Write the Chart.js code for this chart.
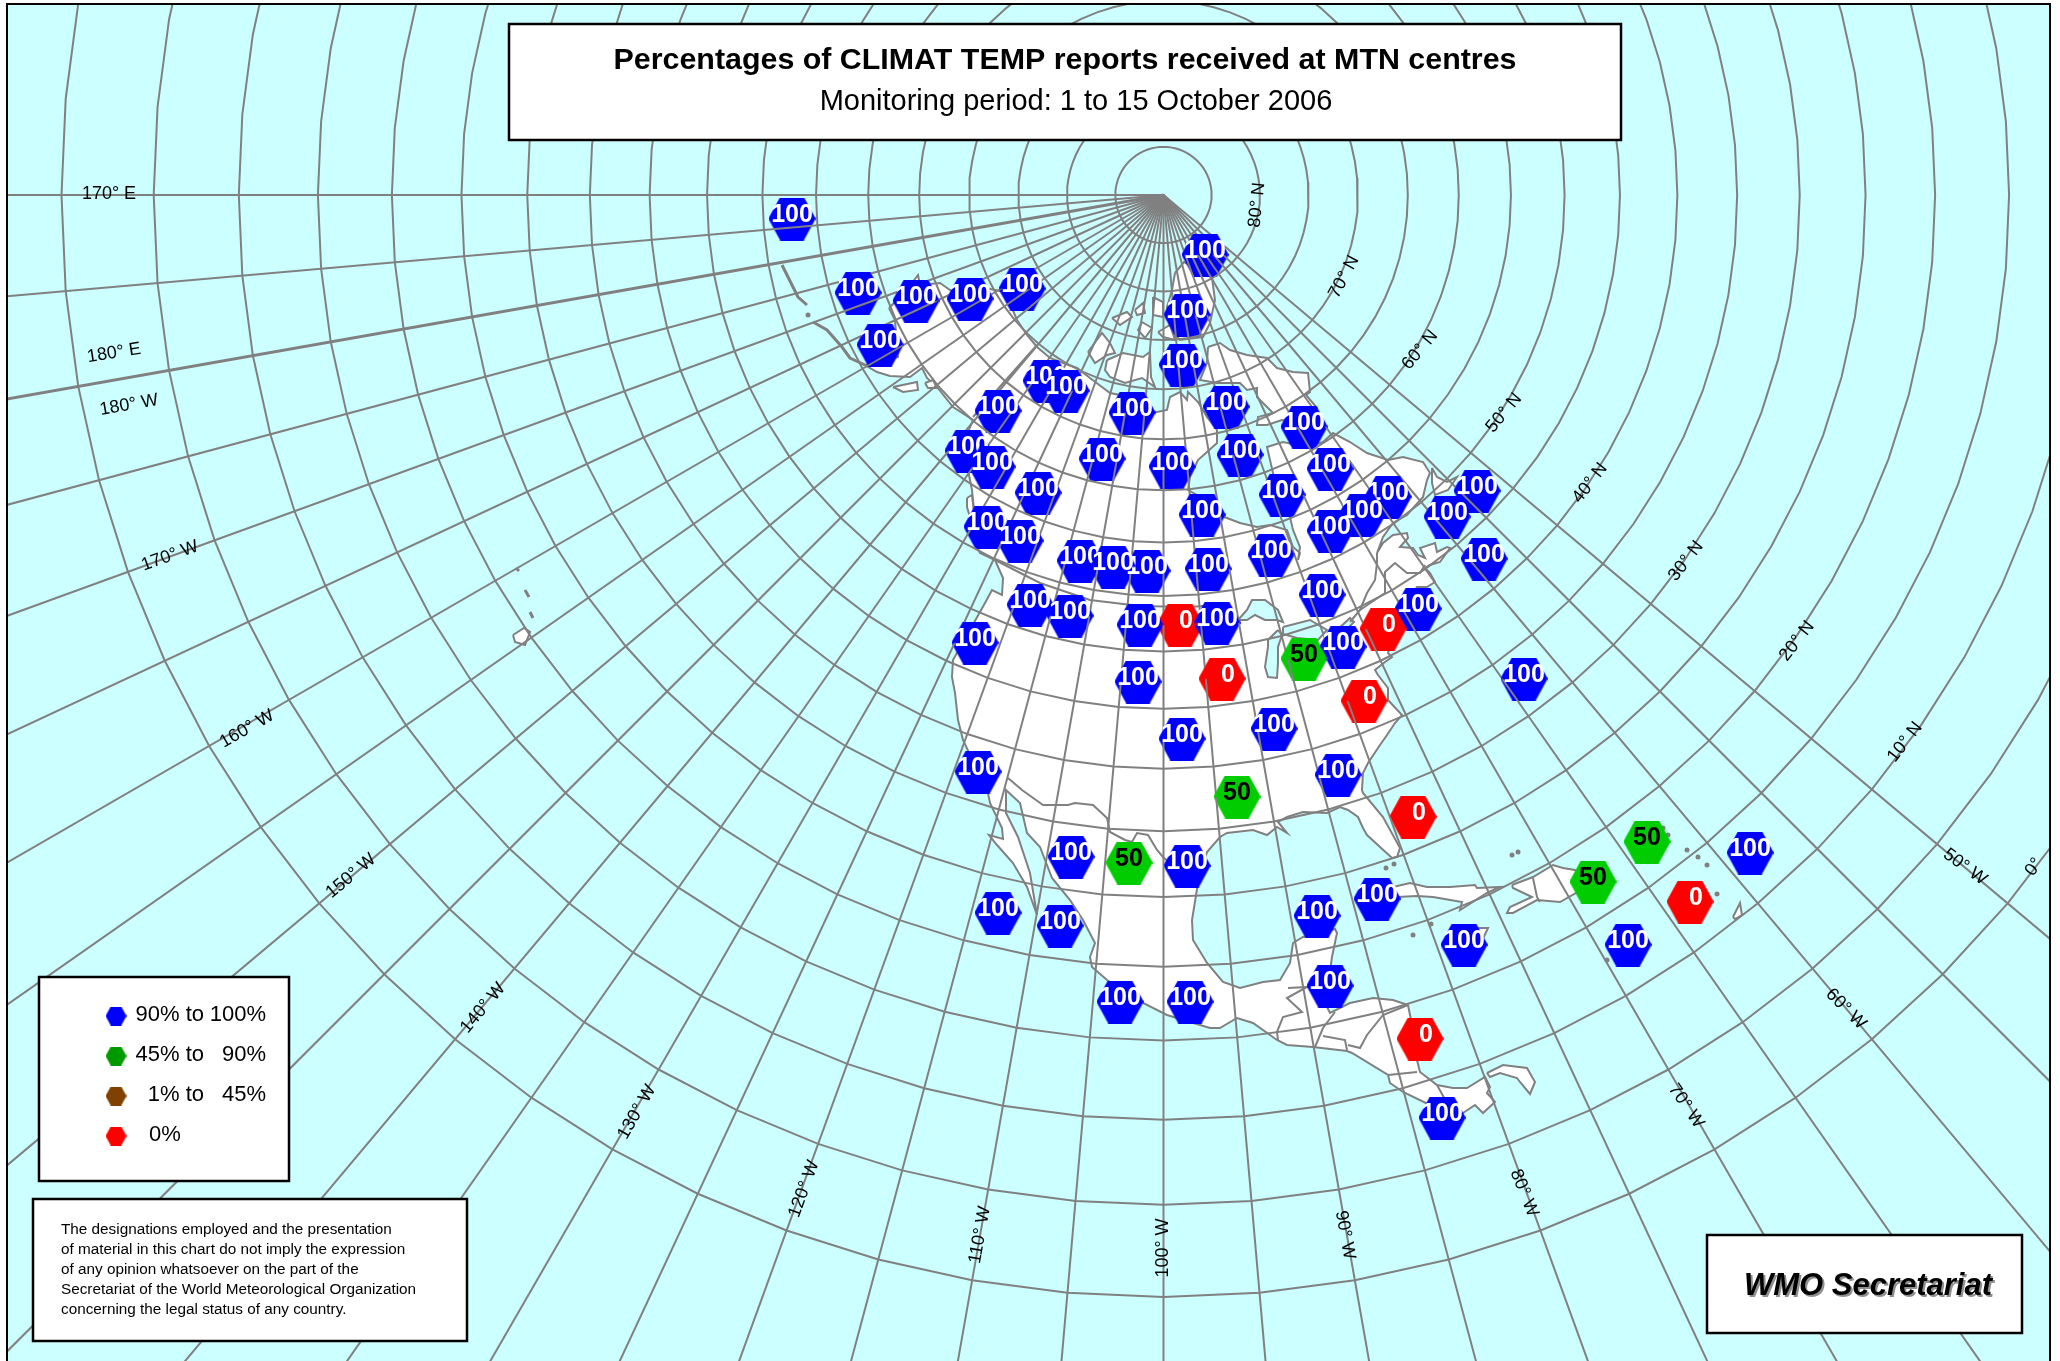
<!DOCTYPE html>
<html>
<head>
<meta charset="utf-8">
<title>CLIMAT TEMP reports</title>
<script src="https://cdn.jsdelivr.net/npm/chart.js@4"></script>
<style>
  html, body { margin: 0; background: #fff; }
  canvas { display: block; }
</style>
</head>
<body>
<canvas id="mapChart" width="2060" height="1361"></canvas>
<script>
// Stations in map grid units, listed in drawing order
const stationX = [792, 858, 916, 970, 1022, 880, 1205, 1187, 1182, 1046, 1066, 998, 1132, 1226, 1304, 968, 992, 1102, 1172, 1240, 1330, 1282, 1038, 1388, 1362, 1330, 1477, 1447, 1484, 1202, 1322, 987, 1020, 1080, 1147, 1113, 1208, 1271, 1180, 1140, 1217, 1030, 1070, 1418, 1304, 1343, 1383, 1138, 1222, 1182, 1274, 975, 1364, 1338, 1524, 978, 1237, 1071, 1129, 1187, 1413, 998, 1060, 1377, 1317, 1330, 1120, 1190, 1420, 1442, 1593, 1647, 1750, 1690, 1628, 1464];
const stationY = [219, 293, 301, 299, 289, 345, 255, 315, 365, 381, 391, 411, 413, 407, 427, 451, 467, 459, 467, 455, 469, 495, 493, 497, 515, 531, 491, 517, 559, 515, 595, 527, 541, 561, 571, 567, 569, 555, 625, 625, 623, 605, 616, 609, 659, 647, 629, 682, 679, 739, 729, 643, 701, 775, 679, 772, 797, 857, 863, 866, 817, 913, 926, 899, 916, 986, 1002, 1002, 1039, 1118, 882, 842, 853, 902, 945, 945];
const stationPct = [100, 100, 100, 100, 100, 100, 100, 100, 100, 100, 100, 100, 100, 100, 100, 100, 100, 100, 100, 100, 100, 100, 100, 100, 100, 100, 100, 100, 100, 100, 100, 100, 100, 100, 100, 100, 100, 100, 0, 100, 100, 100, 100, 100, 50, 100, 0, 100, 0, 100, 100, 100, 0, 100, 100, 100, 50, 100, 50, 100, 0, 100, 100, 100, 100, 100, 100, 100, 0, 100, 50, 50, 100, 0, 100, 100];

// Graticule of the polar stereographic map
const parallelLats = [85, 80, 75, 70, 65, 60, 55, 50, 45, 40, 35, 30, 25, 20, 15, 10, 5, 0];
const meridianLons = [-50, -55, -60, -65, -70, -75, -80, -85, -90, -95, -100, -105, -110, -115, -120, -125, -130, -135, -140, -145, -150, -155, -160, -165, -170, -175, -180, -185, -190];
const chordLons = [-100, -105, -110, -115, -120, -125, -130, -135, -140, -145, -150, -155, -160, -165, -170, -175, -180, -185, -190, -195, -200, -205, -210, -215, -220, -225, -230, -235, -240, -245, -250, -255, -260, -265, -270, -275, -280, -285, -290, -295, -300, -305, -310, -315, -320, -325, -330, -335, -340, -345, -350, -355, 0, -5, -10, -15, -20, -25, -30, -35, -40, -45, -50, -55, -60, -65, -70, -75, -80, -85, -90, -95, -100];
const poleX = 1163.5, poleY = 195, mapRadius = 1102;

// Graticule labels: text, map grid position, rotation
const gridLabelText = ['170° E', '180° E', '180° W', '170° W', '160° W', '150° W', '140° W', '130° W', '120° W', '110° W', '100° W', '90° W', '80° W', '70° W', '60° W', '50° W', '80° N', '70° N', '60° N', '50° N', '40° N', '30° N', '20° N', '10° N', '0°'];
const gridLabelX = [109, 114, 129, 170, 247, 351, 483, 637, 804, 980, 1163, 1345, 1524, 1686, 1846, 1965, 1257, 1344, 1420, 1504, 1590, 1686, 1797, 1905, 2034];
const gridLabelY = [194, 353, 405, 556, 729, 876, 1008, 1112, 1189, 1235, 1248, 1235, 1193, 1106, 1009, 867, 205, 277, 350, 413, 483, 561, 641, 742, 867];
const gridLabelAngle = [0, -9, -10, -20, -30, -40, -50, -60, -70, -80, -90, 80, 68, 56, 45, 36, -84, -62, -50, -50, -52, -52, -52, -52, -54];

// Coastlines as [x, y] outlines
const mainland = [[889,308],[905,292],[918,275],[920,285],[940,283],[950,290],[985,288],[1005,292],[1017,320],[1027,335],[1037,347],[1050,358],[1063,363],[1077,368],[1090,378],[1110,393],[1120,395],[1140,410],[1157,412],[1167,410],[1170,397],[1180,392],[1187,400],[1188,392],[1198,402],[1207,417],[1217,430],[1217,443],[1207,452],[1198,460],[1190,477],[1188,490],[1197,495],[1210,513],[1227,518],[1240,523],[1257,527],[1270,525],[1287,530],[1293,547],[1300,553],[1298,560],[1300,547],[1293,530],[1290,517],[1273,473],[1267,447],[1283,442],[1307,447],[1323,442],[1333,433],[1350,442],[1367,453],[1388,460],[1403,457],[1423,462],[1430,473],[1427,480],[1423,497],[1407,515],[1393,523],[1383,537],[1377,553],[1383,543],[1393,535],[1407,533],[1408,538],[1400,547],[1413,548],[1418,555],[1425,558],[1420,548],[1435,543],[1437,552],[1447,547],[1450,548],[1440,562],[1430,565],[1425,568],[1430,573],[1435,582],[1427,587],[1417,587],[1400,612],[1388,653],[1392,657],[1385,662],[1375,670],[1378,675],[1388,688],[1388,700],[1402,715],[1395,723],[1387,735],[1380,745],[1368,763],[1363,773],[1362,790],[1363,793],[1383,817],[1400,848],[1397,857],[1392,858],[1380,847],[1367,835],[1363,828],[1358,817],[1348,810],[1340,807],[1327,813],[1303,812],[1287,817],[1278,822],[1287,833],[1277,827],[1267,835],[1253,830],[1227,833],[1220,837],[1207,852],[1198,883],[1192,920],[1193,940],[1207,963],[1223,982],[1240,988],[1263,982],[1280,980],[1290,963],[1293,943],[1303,937],[1335,929],[1337,933],[1332,957],[1328,985],[1327,1007],[1330,1013],[1350,1003],[1373,998],[1393,1000],[1408,1005],[1415,1040],[1417,1060],[1420,1072],[1437,1085],[1453,1088],[1467,1088],[1485,1077],[1490,1087],[1487,1093],[1495,1102],[1483,1113],[1475,1105],[1460,1115],[1430,1105],[1403,1092],[1390,1083],[1388,1075],[1352,1053],[1347,1051],[1313,1047],[1287,1045],[1277,1040],[1253,1023],[1237,1018],[1220,1028],[1210,1028],[1190,1022],[1167,1015],[1143,1003],[1107,980],[1092,967],[1090,957],[1095,943],[1083,920],[1070,900],[1052,878],[1040,847],[1027,833],[1020,803],[1006,790],[1006,813],[1018,837],[1030,873],[1037,915],[1027,887],[1013,863],[997,845],[989,835],[1003,839],[1002,828],[990,803],[988,793],[963,740],[958,720],[955,693],[952,677],[953,660],[985,603],[992,590],[1002,595],[1003,578],[995,560],[980,553],[977,547],[975,520],[972,490],[968,470],[965,440],[973,420],[953,407],[937,387],[927,378],[922,368],[910,377],[890,376],[877,372],[865,365],[885,360],[898,357],[895,320],[889,308]];
const baffin = [[1208,347],[1220,343],[1230,350],[1247,355],[1267,358],[1277,368],[1293,372],[1308,373],[1310,392],[1306,395],[1317,408],[1300,423],[1282,420],[1267,425],[1257,425],[1258,417],[1273,413],[1267,407],[1257,397],[1257,388],[1247,390],[1240,383],[1217,383],[1200,380],[1207,363],[1208,347]];
const banks = [[1088,352],[1102,333],[1110,343],[1115,353],[1107,355],[1095,363],[1088,352]];
const victoria = [[1107,360],[1123,353],[1143,357],[1150,352],[1151,377],[1155,387],[1142,378],[1125,383],[1110,377],[1105,370],[1107,360]];
const ellesmere = [[1175,273],[1184,262],[1203,273],[1212,278],[1215,300],[1210,323],[1203,337],[1180,340],[1170,327],[1167,307],[1172,290],[1175,273]];
const arcticIslands = [
  [[1112,318],[1127,312],[1132,317],[1120,325],[1112,318]],
  [[1135,310],[1143,303],[1145,313],[1137,315],[1135,310]],
  [[1153,297],[1163,302],[1163,317],[1153,315],[1153,297]],
  [[1142,322],[1152,328],[1145,338],[1138,330],[1142,322]],
  [[1158,332],[1170,325],[1175,340],[1163,337],[1158,332]]
];
const newfoundland = [[1432,468],[1437,477],[1447,482],[1457,477],[1448,490],[1435,495],[1432,483],[1432,468]];
const vancouverIsland = [[967,498],[972,495],[974,513],[970,517],[967,507],[967,498]];
const kodiak = [[893,387],[917,382],[918,390],[903,392],[893,387]];
const alaskaIsle = [[925,383],[933,380],[937,388],[928,388],[925,383]];
const cuba = [[1365,900],[1393,887],[1410,883],[1427,887],[1450,887],[1475,885],[1477,888],[1500,887],[1487,893],[1460,910],[1462,902],[1433,897],[1417,896],[1397,897],[1365,900]];
const hispaniola = [[1512,885],[1533,877],[1553,865],[1563,868],[1575,870],[1590,885],[1560,902],[1537,900],[1513,913],[1507,913],[1510,907],[1532,897],[1513,888],[1512,885]];
const jamaica = [[1470,928],[1488,928],[1480,945],[1470,928]];
const hookCoast = [[1487,1073],[1503,1065],[1527,1068],[1535,1082],[1530,1094],[1520,1082],[1517,1078],[1500,1073],[1490,1077],[1487,1073]];
const trinidad = [[1733,917],[1740,903],[1742,915],[1735,919],[1733,917]];
const bigIsland = [[513,635],[524,628],[530,632],[525,645],[515,642],[513,635]];
const superior = [[1238,620],[1247,610],[1252,600],[1265,600],[1278,610],[1283,622],[1277,620],[1265,620],[1255,615],[1247,620],[1238,620]];
const michigan = [[1278,630],[1268,640],[1268,647],[1265,667],[1268,677],[1277,678],[1278,663],[1278,647],[1282,635],[1278,630]];
const huron = [[1283,627],[1310,620],[1327,630],[1318,640],[1297,638],[1283,634],[1283,627]];
const ontarioLake = [[1335,632],[1350,618],[1354,622],[1342,634],[1335,632]];

// Borders, not filled
const borderLines = [
  [[1008,778],[1022,790],[1043,805],[1068,805],[1075,803],[1093,805],[1107,818],[1110,832],[1125,840],[1132,842],[1137,833],[1148,835],[1157,850],[1163,857],[1180,872]],
  [[1037,345],[973,417]],
  [[995,560],[1040,583],[1090,600],[1140,606],[1190,607],[1215,605],[1237,615]],
  [[1350,622],[1360,610],[1367,593],[1375,580],[1377,563],[1377,553]],
  [[1360,610],[1385,593],[1385,572],[1395,563],[1407,573],[1420,573],[1425,565]],
  [[1288,988],[1307,987],[1287,998],[1302,1012],[1283,1017],[1277,1032],[1278,1040]],
  [[1315,1047],[1323,1028],[1335,1012]],
  [[1323,1036],[1345,1040],[1347,1050]],
  [[1348,1045],[1360,1048],[1367,1035],[1383,1015],[1408,1005]],
  [[1388,1075],[1417,1072]],
  [[1437,1085],[1447,1103]],
  [[1533,878],[1537,897],[1540,902]]
];
// Thin island chains, drawn heavier
const islandChains = [
  [[782,265],[788,277],[793,287],[798,297],[807,305]],
  [[813,322],[827,330],[842,347],[850,358],[865,365]],
  [[516,568],[519,571]],
  [[525,590],[529,597]],
  [[530,612],[533,618]]
];
const isletX = [1413, 1431, 1386, 1394, 1512, 1518, 1687, 1698, 1707, 1717, 1663, 1668, 1607, 808];
const isletY = [935, 924, 868, 864, 855, 852, 850, 857, 865, 894, 828, 835, 960, 315];

// Legend rows
const legendLabels = ['90% to', '45% to', '1% to', '0%'];
const legendRanges = ['100%', '90%', '45%', ''];
const legendColors = ['#0000ff', '#009900', '#804000', '#ff0000'];

const noteLines = [
  'The designations employed and the presentation',
  'of material in this chart do not imply the expression',
  'of any opinion whatsoever on the part of the',
  'Secretariat of the World Meteorological Organization',
  'concerning the legal status of any country.'
];

const FONT = '"Liberation Sans", Arial, sans-serif';
const GREY = '#808080';

function pctColor(pct) {
  if (pct === 100) return '#0000ff';
  if (pct === 50) return '#00cc00';
  return '#ff0000';
}

function project(lon, lat) {
  const a = (lon + 100) * Math.PI / 180;
  const r = mapRadius * Math.tan((90 - lat) / 2 * Math.PI / 180);
  return { x: poleX + r * Math.sin(a), y: poleY + r * Math.cos(a) };
}

// Flat-topped hexagon as a canvas, usable as a Chart.js pointStyle
function makeHex(color, w, h, topOnly) {
  const c = document.createElement('canvas');
  c.width = w;
  c.height = h;
  const g = c.getContext('2d');
  if (topOnly) {
    g.beginPath();
    g.rect(0, 0, w, h / 2);
    g.clip();
  }
  g.fillStyle = color;
  g.beginPath();
  g.moveTo(0, h / 2);
  g.lineTo(w * 0.25, 0);
  g.lineTo(w * 0.75, 0);
  g.lineTo(w, h / 2);
  g.lineTo(w * 0.75, h);
  g.lineTo(w * 0.25, h);
  g.closePath();
  g.fill();
  return c;
}

function toPoints(outline) {
  return outline.map(p => ({ x: p[0], y: p[1] }));
}

function landDataset(outline, fillColor) {
  return {
    type: 'line',
    data: toPoints(outline),
    borderColor: GREY,
    borderWidth: 2,
    backgroundColor: fillColor,
    fill: 'shape',
    pointRadius: 0,
    tension: 0
  };
}

function greyLine(points, width) {
  return {
    type: 'line',
    data: points,
    borderColor: GREY,
    borderWidth: width,
    fill: false,
    pointRadius: 0,
    tension: 0
  };
}

// Build the datasets in drawing order, first one at the bottom
function buildDatasets() {
  const sets = [];
  [mainland, baffin, banks, victoria, ellesmere, ...arcticIslands, newfoundland, vancouverIsland, kodiak, alaskaIsle, cuba, hispaniola, jamaica, hookCoast, trinidad, bigIsland].forEach(o => {
    sets.push(landDataset(o, '#ffffff'));
  });
  [superior, michigan, huron, ontarioLake].forEach(o => {
    sets.push(landDataset(o, '#ccffff'));
  });
  borderLines.forEach(o => sets.push(greyLine(toPoints(o), 2)));
  islandChains.forEach(o => sets.push(greyLine(toPoints(o), 3)));
  sets.push({
    type: 'scatter',
    data: isletX.map((x, i) => ({ x: x, y: isletY[i] })),
    pointRadius: 2.5,
    pointStyle: 'circle',
    backgroundColor: GREY,
    borderWidth: 0
  });

  // Whole hexagons sit under the grid lines
  sets.push({
    type: 'scatter',
    data: stationX.map((x, i) => ({ x: x, y: stationY[i] })),
    pointStyle: stationPct.map(p => makeHex(pctColor(p), 47, 43, false)),
    pointRadius: 22
  });

  parallelLats.forEach(lat => {
    sets.push(greyLine(chordLons.map(lon => project(lon, lat)), 2));
  });
  meridianLons.forEach(lon => {
    sets.push(greyLine([project(lon, 90), project(lon, -60)], lon === -180 ? 3 : 2));
  });

  // Upper half of every hexagon and its number cover the lines again
  stationX.forEach((x, i) => {
    sets.push({
      type: 'scatter',
      data: [{ x: x, y: stationY[i] }],
      pointStyle: makeHex(pctColor(stationPct[i]), 47, 43, true),
      pointRadius: 22,
      stationLabel: stationPct[i]
    });
  });

  sets.forEach((s, i) => { s.order = sets.length - i; });
  return sets;
}

function drawBox(ctx, left, top, right, bottom) {
  ctx.fillStyle = '#ffffff';
  ctx.fillRect(left, top, right - left, bottom - top);
  ctx.strokeStyle = '#000000';
  ctx.lineWidth = 2.5;
  ctx.strokeRect(left, top, right - left, bottom - top);
}

const stationLabels = {
  id: 'stationLabels',
  afterDatasetDraw(chart, args) {
    const ds = chart.data.datasets[args.index];
    if (ds.stationLabel === undefined) return;
    const pt = args.meta.data[0];
    const ctx = chart.ctx;
    const pct = ds.stationLabel;
    ctx.save();
    ctx.font = 'bold 25px ' + FONT;
    ctx.textAlign = 'center';
    ctx.textBaseline = 'middle';
    ctx.fillStyle = pct === 50 ? '#000000' : '#ffffff';
    ctx.fillText(String(pct), pt.x + (pct === 0 ? 6 : 0), pt.y - 4);
    ctx.restore();
  }
};

const mapFurniture = {
  id: 'mapFurniture',
  beforeDatasetsDraw(chart) {
    const { ctx, chartArea: a } = chart;
    ctx.fillStyle = '#ccffff';
    ctx.fillRect(a.left, a.top, a.right - a.left, a.bottom - a.top);
  },
  afterDatasetsDraw(chart) {
    const { ctx, chartArea: a, scales } = chart;
    ctx.save();

    // Graticule labels
    ctx.fillStyle = '#000000';
    ctx.font = '18px ' + FONT;
    ctx.textAlign = 'center';
    ctx.textBaseline = 'middle';
    gridLabelText.forEach((text, i) => {
      ctx.save();
      ctx.translate(scales.x.getPixelForValue(gridLabelX[i]), scales.y.getPixelForValue(gridLabelY[i]));
      ctx.rotate(gridLabelAngle[i] * Math.PI / 180);
      ctx.fillText(text, 0, 0);
      ctx.restore();
    });

    // Map frame, open at the bottom
    ctx.strokeStyle = '#000000';
    ctx.lineWidth = 2;
    ctx.beginPath();
    ctx.moveTo(a.left, a.bottom);
    ctx.lineTo(a.left, a.top);
    ctx.lineTo(a.right, a.top);
    ctx.lineTo(a.right, a.bottom);
    ctx.stroke();

    // Title box
    drawBox(ctx, 509, 24, 1621, 140);
    ctx.fillStyle = '#000000';
    ctx.textAlign = 'center';
    ctx.font = 'bold 30.4px ' + FONT;
    ctx.fillText('Percentages of CLIMAT TEMP reports received at MTN centres', 1065, 61);
    ctx.font = '29px ' + FONT;
    ctx.fillText('Monitoring period: 1 to 15 October 2006', 1076, 102);

    // Legend box
    drawBox(ctx, 39, 977, 289, 1181);
    ctx.font = '22px ' + FONT;
    legendLabels.forEach((label, i) => {
      const y = 1016 + i * 40;
      ctx.drawImage(makeHex(legendColors[i], 21, 19, false), 105.5, y - 9.5);
      ctx.fillStyle = '#000000';
      if (legendRanges[i]) {
        ctx.textAlign = 'right';
        ctx.fillText(label, 204, y - 1);
        ctx.fillText(legendRanges[i], 266, y - 1);
      } else {
        ctx.textAlign = 'left';
        ctx.fillText(label, 149, y - 1);
      }
    });

    // Disclaimer box
    drawBox(ctx, 33, 1199, 467, 1341);
    ctx.font = '15.3px ' + FONT;
    ctx.textAlign = 'left';
    ctx.fillStyle = '#000000';
    noteLines.forEach((line, i) => {
      ctx.fillText(line, 61, 1230 + i * 20);
    });

    // Signature box
    drawBox(ctx, 1707, 1235, 2022, 1333);
    ctx.font = 'italic bold 31px ' + FONT;
    ctx.textAlign = 'center';
    ctx.fillStyle = '#909090';
    ctx.fillText('WMO Secretariat', 1870, 1288);
    ctx.fillStyle = '#000000';
    ctx.fillText('WMO Secretariat', 1868, 1286);

    ctx.restore();
  }
};

// Initialize the chart
function initChart() {
  const ctx = document.getElementById('mapChart').getContext('2d');
  new Chart(ctx, {
    type: 'scatter',
    data: { datasets: buildDatasets() },
    options: {
      responsive: false,
      animation: false,
      events: [],
      layout: { autoPadding: false, padding: { left: 7, top: 4, right: 10, bottom: 0 } },
      scales: {
        x: { type: 'linear', min: 7, max: 2050, display: false },
        y: { type: 'linear', min: 4, max: 1361, reverse: true, display: false }
      },
      plugins: { legend: { display: false }, tooltip: { enabled: false }, title: { display: false } }
    },
    plugins: [stationLabels, mapFurniture]
  });
}

document.addEventListener('DOMContentLoaded', initChart);
</script>
</body>
</html>
